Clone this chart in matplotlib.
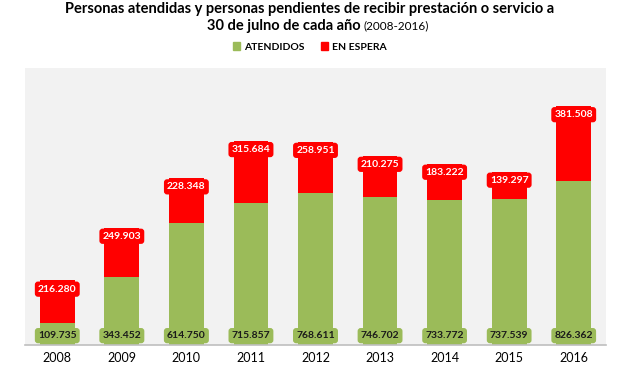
import matplotlib
matplotlib.use("Agg")
import matplotlib.pyplot as plt
from matplotlib.patches import Patch

plt.rcParams["font.family"] = ["Lato", "DejaVu Sans"]

# Data
years = ["2008", "2009", "2010", "2011", "2012", "2013", "2014", "2015", "2016"]
atendidos = [109735, 343452, 614750, 715857, 768611, 746702, 733772, 737539, 826362]
en_espera = [216280, 249903, 228348, 315684, 258951, 210275, 183222, 139297, 381508]


def fmt(v):
    # Spanish thousands separator
    return f"{v:,}".replace(",", ".")


green = "#9BBB59"
red = "#FF0000"

fig = plt.figure(figsize=(6.2, 3.68), dpi=100)
ax = fig.add_axes([25 / 620, 1 - 345 / 368, 581 / 620, 277 / 368])
ax.set_facecolor("#F2F2F2")

x = list(range(len(years)))
ax.bar(x, atendidos, width=0.54, color=green, zorder=2)
ax.bar(x, en_espera, width=0.54, bottom=atendidos, color=red, zorder=2)

for i in x:
    # green label at inside base
    ax.annotate(fmt(atendidos[i]), (i, 0), xytext=(0, 3.5), textcoords="offset points",
                ha="center", va="bottom", fontsize=7.5, fontweight="bold", color="#1a1a1a",
                bbox=dict(boxstyle="round,pad=0.3", fc=green, ec="none"), zorder=3)
    # red label at inside end
    ax.annotate(fmt(en_espera[i]), (i, atendidos[i] + en_espera[i]), xytext=(0, -3),
                textcoords="offset points", ha="center", va="top", fontsize=7.5,
                fontweight="bold", color="white",
                bbox=dict(boxstyle="round,pad=0.3", fc=red, ec="none"), zorder=3)

ax.set_xlim(-0.5, 8.5)
ax.set_ylim(0, 1400000)
ax.set_yticks([])
ax.set_xticks(x)
ax.set_xticklabels(years, fontsize=9)
ax.tick_params(axis="x", length=0, pad=5)
for side in ["top", "right", "left"]:
    ax.spines[side].set_visible(False)
ax.spines["bottom"].set_color("#BFBFBF")
ax.spines["bottom"].set_linewidth(1.2)

fig.text(0.5, 1 - 9 / 368,
         "Personas atendidas y personas pendientes de recibir prestación o servicio a",
         ha="center", va="center", fontsize=10.5, fontweight="bold")

# line 2: bold part followed by a normal-weight part, centred together
r = fig.canvas.get_renderer()
p1 = fig.text(0, 1 - 26 / 368, "30 de julno de cada año ", ha="left", va="center",
              fontsize=10.5, fontweight="bold")
p2 = fig.text(0, 1 - 26 / 368, "(2008-2016)", ha="left", va="center", fontsize=8.5)
w1 = p1.get_window_extent(r).width
w2 = p2.get_window_extent(r).width
x0 = (620 - w1 - w2) / 2 + 8
p1.set_x(x0 / 620)
p2.set_x((x0 + w1) / 620)

handles = [Patch(color=green, label="ATENDIDOS"), Patch(color=red, label="EN ESPERA")]
fig.legend(handles=handles, loc="center", bbox_to_anchor=(0.5, 1 - 47 / 368), ncol=2,
           frameon=False, prop={"size": 7.5, "weight": "bold"}, handlelength=0.7,
           handleheight=0.7, handletextpad=0.4, columnspacing=1.5)

fig.savefig("out.png", dpi=100, facecolor="white")
